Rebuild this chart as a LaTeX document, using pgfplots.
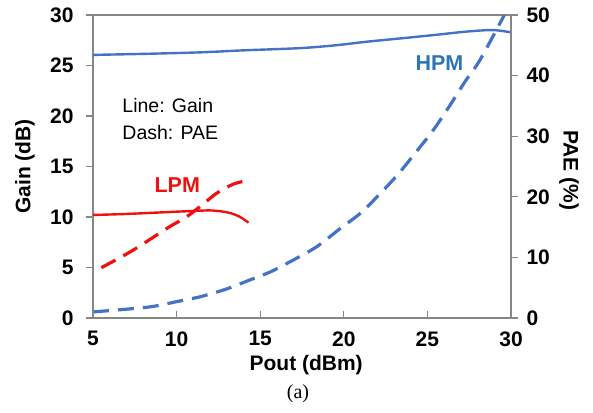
\documentclass[border=0pt]{standalone}
\usepackage{fontspec}
\setmainfont{Liberation Sans}
\newfontfamily\capfont{Liberation Serif}
\usepackage{pgfplots}
\pgfplotsset{compat=1.18}

\definecolor{hpm}{RGB}{68,114,196}
\definecolor{hpmtxt}{RGB}{46,117,182}
\definecolor{lpm}{RGB}{240,16,16}
\definecolor{axgray}{RGB}{134,134,134}

\pgfplotsset{
  base/.style={scale only axis, width=418pt, height=303pt,
    at={(0pt,0pt)}, anchor=south west, xmin=5, xmax=30,
    axis line style={axgray, line width=1.1pt},
    every tick/.style={axgray, line width=1.1pt},
    major tick length=7pt,
    tick label style={font=\bfseries\fontsize{21}{21}\selectfont},
    label style={font=\bfseries\fontsize{21}{21}\selectfont},
    /pgf/number format/assume math mode=true},
  gainline/.style={line width=2.4pt, smooth, tension=0.5},
  paeline/.style={line width=3.2pt, smooth, tension=0.5, dash pattern=on 16pt off 9pt},
}

\begin{document}
\begin{tikzpicture}
\path[use as bounding box] (-93pt,-94pt) rectangle (500pt,318pt);

% left axis: gain
\begin{axis}[base, ymin=0, ymax=30, ytick={0,5,...,30}, xtick=\empty,
  ytick pos=left, tick align=outside,
  yticklabel style={xshift=-9pt},
  ylabel={Gain (dB)},
  ylabel style={at={(axis description cs:-0.163,0.5)}, anchor=center}]
\addplot[hpm, gainline] coordinates {
  (5,26.05) (8,26.15) (11.4,26.3) (14,26.5) (17.4,26.72) (19.5,27.0)
  (21.4,27.36) (23.5,27.7) (25.3,28.0) (27.3,28.35) (28.9,28.51) (30,28.28)};
\addplot[lpm, gainline] coordinates {
  (5,10.2) (7,10.3) (9,10.45) (11,10.6) (12,10.65) (12.7,10.55)
  (13.3,10.35) (13.8,10.0) (14.3,9.45)};
\node[anchor=base west, font=\fontsize{19.5}{19.5}\selectfont] at (axis cs:6.55,20.3) {Line: Gain};
\node[anchor=base west, font=\fontsize{19.5}{19.5}\selectfont] at (axis cs:6.55,17.7) {Dash: PAE};
\node[anchor=base west, text=lpm, font=\bfseries\fontsize{21.5}{21.5}\selectfont] at (axis cs:8.47,12.38) {LPM};
\node[anchor=base west, text=hpmtxt, font=\bfseries\fontsize{21.5}{21.5}\selectfont] at (axis cs:24.08,24.46) {HPM};
\end{axis}

% right axis: PAE
\begin{axis}[base, ymin=0, ymax=50, ytick={0,10,...,50},
  axis x line=none, axis y line*=right, tick align=outside,
  yticklabel style={xshift=5pt},
  ylabel={PAE (\%)},
  ylabel style={at={(axis description cs:1.139,0.488)}, anchor=center, rotate=180}]
\addplot[hpm, paeline] coordinates {
  (5,1.0) (8.3,1.8) (10,2.7) (11.4,3.5) (13,4.8) (14.4,6.3) (15.6,7.6)
  (17,9.6) (18.4,11.8) (19.8,14.8) (21,17.3) (22.2,20.6) (23.3,23.9)
  (24.35,27.5) (25.35,31.0) (26.35,35.1) (27.25,39.0) (28.15,42.6) (29.6,50)};
\addplot[lpm, paeline] coordinates {
  (5.5,8.3) (7.4,11.2) (9.6,15.1) (10.5,16.5) (11.5,18.6) (12.4,20.6)
  (13.4,22.1) (14.4,22.8)};
\end{axis}

% x ticks (pointing inwards)
\begin{axis}[base, ymin=0, ymax=1, ytick=\empty,
  axis y line=none, axis x line*=bottom, tick align=inside,
  xtick={5,10,...,30},
  xticklabel style={yshift=-10pt},
  xlabel={Pout (dBm)},
  xlabel style={at={(axis description cs:0.51,-0.155)}, anchor=center}]
\end{axis}

\node[font=\capfont\fontsize{20}{20}\selectfont] at (205pt,-76pt) {(a)};
\end{tikzpicture}
\end{document}
